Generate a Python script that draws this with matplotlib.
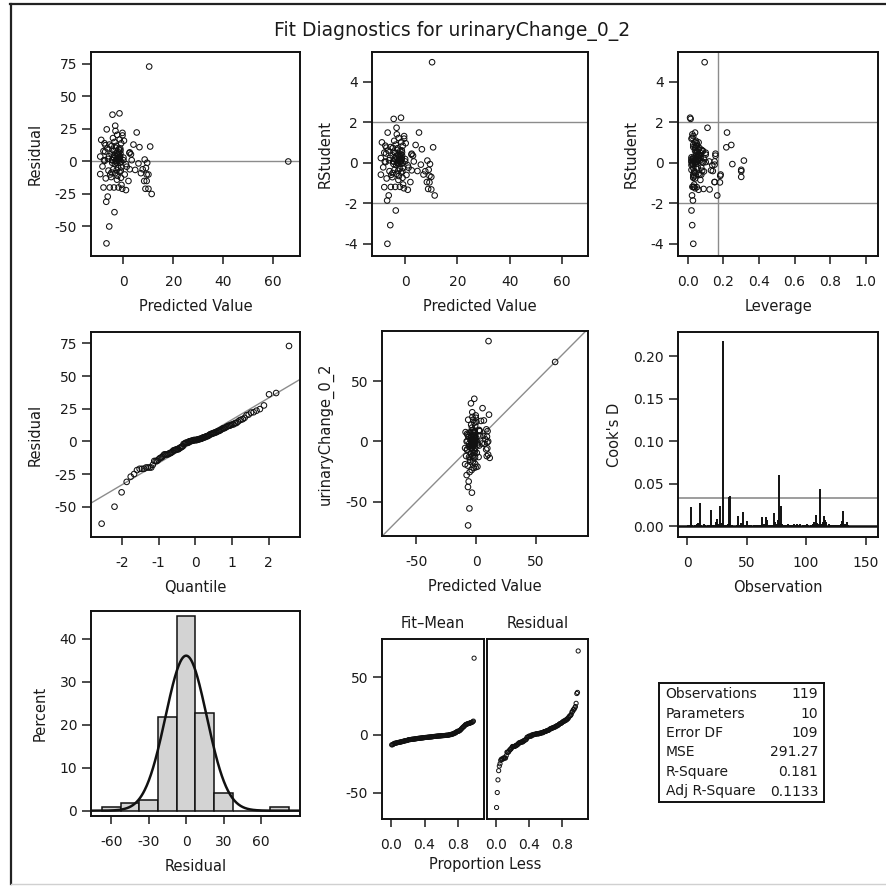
import numpy as np
import matplotlib
matplotlib.use('Agg')
import matplotlib.pyplot as plt
from matplotlib.lines import Line2D
from statistics import NormalDist

plt.rcParams['font.family'] = ['DejaVu Sans']
plt.rcParams['axes.unicode_minus'] = False

title = "Fit Diagnostics for urinaryChange_0_2"
response = "urinaryChange_0_2"

# ---- data (one entry per observation) ----
pred = [10.3, 66.0, -6.8, -5.7, -3.6, -6.9, -6.3, 11.3, 10.0, -1.6, -4.4, -3.3, 5.3, -6.7, -0.4, -0.4,
        10.7, 6.4, 9.3, 9.3, 8.3, 7.7, 10.0, 9.0, 8.5, 9.5, 4.0, 7.0, 2.5, 3.0, 8.8, 1.0, 0.0, 6.0, -8.0,
        2.0, 2.5,
        -9.3, -9.3, -8.9, -8.4, -8.0, -7.6, -7.3, -7.2, -7.8, -7.5, -7.1,
        -6.5, -6.0, -5.8, -5.5, -6.2, -5.3, -5.6,
        -4.8, -4.5, -4.2, -4.9, -4.6, -4.3, -4.1, -4.7, -4.4, -4.0, -4.8,
        -3.8, -3.5, -3.2, -3.9, -3.4, -3.1, -3.6, -3.3, -3.7, -3.0,
        -2.9, -2.6, -2.4, -2.8, -2.3, -2.7, -2.5, -2.2, -2.9, -2.6, -2.4, -2.8,
        -2.0, -1.8, -1.6, -2.1, -1.9, -1.7, -1.5, -2.0, -1.6, -1.8,
        -1.4, -1.2, -1.0, -1.3, -0.9, -1.1, -1.4, -0.8, -1.2, -1.0, -1.3, -0.9,
        -0.5, 0.0, 0.5, 1.3, 2.4, 3.3, 4.7, 0.2, 1.0]
resid = [73.0, 0.0, -63.0, -50.0, -39.0, -31.0, -27.0, -25.0, -21.0, 37.0, 36.0, 27.5, 22.3, 24.7, 22.0, 20.0,
         11.5, 11.0, -10.0, -15.0, -15.0, -6.0, -10.0, -5.0, 1.5, -1.0, 13.0, -9.0, 7.0, 5.5, -21.0, -2.0, 1.0,
         -1.5, 8.0, -15.0, -6.0,
         3.8, -9.7, 16.6, -3.8, -20.0, 14.0, 7.6, 12.5, 1.0, 0.5, -13.0,
         10.0, -7.0, 4.0, -20.0, 2.0, -10.0, 13.0,
         6.0, -1.0, 18.0, -12.0, 1.0, 9.0, -6.0, 12.0, 1.0, 3.5, -8.5,
         -20.0, 5.0, 23.5, 8.0, -2.0, 0.0, 15.0, -9.0, 2.5, 10.5,
         0.5, 6.5, -11.0, 1.5, 3.0, -6.5, 20.5, 2.0, 12.0, -14.0, 4.5, -1.0,
         -20.0, 7.0, 2.0, -5.0, 9.5, 1.5, 17.0, 5.5, -8.0, 0.5,
         -1.0, 8.5, -12.5, 4.0, 14.0, -7.0, 3.0, -18.0, 6.0, 0.0, 10.0, -4.5,
         -21.0, 3.0, -10.0, -4.0, 6.5, 1.0, -6.5, 16.0, -22.0]
lev = [0.094, 1.0, 0.03, 0.024, 0.02, 0.028, 0.023, 0.165, 0.122, 0.012, 0.015, 0.11, 0.22, 0.04, 0.03, 0.02,
       0.216, 0.06, 0.182, 0.18, 0.15, 0.30, 0.30, 0.30, 0.315, 0.25, 0.244, 0.184, 0.155, 0.155, 0.088, 0.137,
       0.15, 0.15, 0.10, 0.15, 0.13,
       0.07, 0.075, 0.06, 0.055, 0.05, 0.05, 0.045, 0.04, 0.05, 0.045, 0.04,
       0.04, 0.035, 0.03, 0.035, 0.04, 0.03, 0.03,
       0.06, 0.025, 0.045, 0.03, 0.08, 0.05, 0.02, 0.065, 0.035, 0.09, 0.04,
       0.03, 0.055, 0.025, 0.07, 0.02, 0.085, 0.03, 0.06, 0.045, 0.075,
       0.02, 0.05, 0.035, 0.065, 0.03, 0.08, 0.025, 0.055, 0.04, 0.07, 0.02, 0.045,
       0.025, 0.06, 0.03, 0.05, 0.085, 0.02, 0.04, 0.065, 0.035, 0.10,
       0.025, 0.05, 0.03, 0.07, 0.045, 0.09, 0.02, 0.035, 0.06, 0.04, 0.08, 0.03,
       0.04, 0.055, 0.065, 0.075, 0.10, 0.12, 0.14, 0.05, 0.06]

obs_num = [1, 2, 3, 4, 5, 7, 8, 9, 10, 11, 12, 14, 15, 17, 18, 19, 20, 21, 23, 24, 25, 26, 27, 28, 29, 30,
           31, 33, 34, 35, 36, 37, 38, 40, 42, 43, 44, 45, 46, 47, 48, 49, 50, 51, 52, 53, 54, 56, 57, 59,
           60, 61, 62, 63, 64, 65, 66, 67, 68, 70, 71, 72, 73, 74, 75, 76, 77, 78, 79, 80, 81, 82, 83, 85,
           86, 87, 88, 90, 91, 92, 93, 94, 95, 97, 98, 99, 100, 101, 102, 104, 105, 106, 107, 108, 109,
           110, 111, 112, 113, 114, 115, 116, 117, 119, 120, 121, 123, 124, 125, 127, 128, 129, 130, 131,
           132, 133, 134, 135, 136]
cook_d = [0.001, 0.002, 0.023, 0.001, 0.0005, 0.002, 0.003, 0.004, 0.004, 0.027, 0.001, 0.003, 0.001,
          0.0005, 0.001, 0.002, 0.019, 0.001, 0.002, 0.005, 0.008, 0.003, 0.002, 0.024, 0.004, 0.218,
          0.002, 0.001, 0.003, 0.035, 0.036, 0.002, 0.001, 0.0005, 0.001, 0.012, 0.002, 0.004, 0.001,
          0.017, 0.002, 0.001, 0.006, 0.001, 0.0005, 0.001, 0.002, 0.001, 0.002, 0.001, 0.002, 0.001,
          0.002, 0.011, 0.001, 0.003, 0.011, 0.007, 0.002, 0.001, 0.002, 0.001, 0.016, 0.005, 0.003,
          0.007, 0.060, 0.004, 0.024, 0.003, 0.001, 0.002, 0.001, 0.003, 0.001, 0.002, 0.001, 0.003,
          0.001, 0.003, 0.001, 0.002, 0.003, 0.001, 0.002, 0.001, np.nan, 0.003, 0.001, 0.002, 0.001,
          0.003, 0.005, 0.013, 0.004, 0.003, 0.002, 0.044, 0.003, 0.005, 0.012, 0.007, 0.005, 0.003,
          0.002, 0.001, 0.001, 0.002, 0.001, 0.001, 0.002, 0.003, 0.006, 0.018, 0.002, 0.003, 0.005,
          0.001, 0.0005]

stat_names = ["Observations", "Parameters", "Error DF", "MSE", "R-Square", "Adj R-Square"]
stat_values = ["119", "10", "109", "291.27", "0.181", "0.1133"]
n_obs = 119
n_par = 10
mse = 291.27

# ---- derived diagnostics ----
pred_a = np.array(pred, float)
resid_a = np.array(resid, float)
lev_a = np.array(lev, float)
obs_a = pred_a + resid_a
ok = lev_a < 0.999
s = np.sqrt(mse)
r_int = resid_a[ok] / (s * np.sqrt(1 - lev_a[ok]))
rstud = r_int * np.sqrt((n_obs - n_par - 1) / (n_obs - n_par - r_int ** 2))
n = len(resid_a)
mu, sd = resid_a.mean(), resid_a.std(ddof=1)
nd = NormalDist()
qq = np.array([nd.inv_cdf((i - 0.375) / (n + 0.25)) for i in range(1, n + 1)])
prop = (np.arange(1, n + 1) - 0.5) / n

# ---- figure ----
W, H = 886, 890
fig = plt.figure(figsize=(W / 100, H / 100), dpi=100)
TXT = '#1a1a1a'
GRAY = '#8c8c8c'


def add_ax(x0, y0, x1, y1):
    ax = fig.add_axes([x0 / W, 1 - y1 / H, (x1 - x0) / W, (y1 - y0) / H])
    for sp in ax.spines.values():
        sp.set_linewidth(1.4)
        sp.set_color('#111111')
    ax.tick_params(direction='out', width=1.1, labelsize=10, colors=TXT)
    ax.tick_params(axis='x', length=6, pad=8)
    ax.tick_params(axis='y', length=6.5, pad=3.5)
    return ax


def circles(ax, x, y, s=16, lw=0.75):
    ax.scatter(x, y, s=s, facecolors='none', edgecolors='#111111', linewidths=lw, zorder=3)


lab = dict(fontsize=10.5, color=TXT)
XPAD, YPAD = 7, 8.5

# Row 1
ax1 = add_ax(91, 52, 300, 256)
ax1.axhline(0, color=GRAY, lw=1, zorder=1)
circles(ax1, pred_a, resid_a)
ax1.set_xlim(-13, 70.7)
ax1.set_ylim(-72.7, 84.2)
ax1.set_xticks([0, 20, 40, 60])
ax1.set_yticks([-50, -25, 0, 25, 50, 75])
ax1.set_xlabel("Predicted Value", labelpad=XPAD, **lab)
ax1.set_ylabel("Residual", labelpad=YPAD, **lab)

ax2 = add_ax(372, 52, 588, 256)
for yv in (-2, 2):
    ax2.axhline(yv, color=GRAY, lw=1, zorder=1)
circles(ax2, pred_a[ok], rstud)
ax2.set_xlim(-12.7, 70)
ax2.set_ylim(-4.6, 5.46)
ax2.set_xticks([0, 20, 40, 60])
ax2.set_yticks([-4, -2, 0, 2, 4])
ax2.set_xlabel("Predicted Value", labelpad=XPAD, **lab)
ax2.set_ylabel("RStudent", labelpad=YPAD, **lab)

ax3 = add_ax(678, 52, 878, 256)
for yv in (-2, 2):
    ax3.axhline(yv, color=GRAY, lw=1, zorder=1)
ax3.axvline(2 * n_par / n_obs, color=GRAY, lw=1, zorder=1)
circles(ax3, lev_a[ok], rstud)
ax3.set_xlim(-0.056, 1.07)
ax3.set_ylim(-4.6, 5.46)
ax3.set_xticks([0, 0.2, 0.4, 0.6, 0.8, 1.0])
ax3.set_xticklabels(["0.0", "0.2", "0.4", "0.6", "0.8", "1.0"])
ax3.set_yticks([-4, -2, 0, 2, 4])
ax3.set_xlabel("Leverage", labelpad=XPAD, **lab)
ax3.set_ylabel("RStudent", labelpad=YPAD, **lab)

# Row 2
ax4 = add_ax(91, 332, 300, 537)
xx = np.array([-3.2, 3.2])
ax4.plot(xx, mu + sd * xx, color=GRAY, lw=1, zorder=1)
circles(ax4, qq, np.sort(resid_a))
ax4.set_xlim(-2.85, 2.86)
ax4.set_ylim(-73.2, 83.7)
ax4.set_xticks([-2, -1, 0, 1, 2])
ax4.set_yticks([-50, -25, 0, 25, 50, 75])
ax4.set_xlabel("Quantile", labelpad=XPAD, **lab)
ax4.set_ylabel("Residual", labelpad=YPAD, **lab)

ax5 = add_ax(382, 331, 588, 536)
ax5.plot([-100, 100], [-100, 100], color=GRAY, lw=1, zorder=1)
circles(ax5, pred_a, obs_a)
ax5.set_xlim(-78.8, 93.5)
ax5.set_ylim(-78.6, 91.7)
ax5.set_xticks([-50, 0, 50])
ax5.set_yticks([-50, 0, 50])
ax5.set_xlabel("Predicted Value", labelpad=XPAD, **lab)
ax5.set_ylabel(response, labelpad=YPAD, **lab)

ax6 = add_ax(678, 332, 878, 537)
ax6.axhline(4 / n_obs, color=GRAY, lw=1.2, zorder=1)
ax6.vlines(obs_num, 0, cook_d, color='#111111', lw=1.4, zorder=2)
ax6.axhline(0, color='#111111', lw=1.8, zorder=3)
ax6.set_xlim(-7.6, 160.4)
ax6.set_ylim(-0.0126, 0.2287)
ax6.set_xticks([0, 50, 100, 150])
ax6.set_yticks([0, 0.05, 0.10, 0.15, 0.20])
ax6.set_yticklabels(["0.00", "0.05", "0.10", "0.15", "0.20"])
ax6.set_xlabel("Observation", labelpad=XPAD, **lab)
ax6.set_ylabel("Cook's D", labelpad=YPAD, **lab)

# Row 3
ax7 = add_ax(91, 611, 300, 816)
edges = np.arange(-67.5, 90, 15)
ax7.hist(resid_a, bins=edges, weights=np.full(n, 100.0 / n), facecolor='#d3d3d3',
         edgecolor='#111111', linewidth=1.1, zorder=2)
gx = np.linspace(-76, 91, 400)
gy = 100 * 15 * np.exp(-0.5 * ((gx - mu) / sd) ** 2) / (sd * np.sqrt(2 * np.pi))
ax7.plot(gx, gy, color='#111111', lw=1.8, zorder=3)
ax7.set_xlim(-76.4, 91.4)
ax7.set_ylim(-1.24, 46.5)
ax7.set_xticks([-60, -30, 0, 30, 60])
ax7.set_yticks([0, 10, 20, 30, 40])
ax7.set_xlabel("Residual", labelpad=XPAD, **lab)
ax7.set_ylabel("Percent", labelpad=YPAD, **lab)

ax8a = add_ax(382, 639, 484, 819)
ax8b = add_ax(487, 639, 588, 819)
fm = np.sort(pred_a - obs_a.mean())
circles(ax8a, prop, fm, s=9, lw=0.7)
circles(ax8b, prop, np.sort(resid_a), s=9, lw=0.7)
for a in (ax8a, ax8b):
    a.set_xlim(-0.112, 1.115)
    a.set_ylim(-73, 83.4)
    a.set_xticks([0, 0.4, 0.8])
    a.set_xticklabels(["0.0", "0.4", "0.8"])
ax8a.set_yticks([-50, 0, 50])
ax8b.set_yticks([])
ax8a.set_title("Fit\u2013Mean", fontsize=10.5, color=TXT, pad=8)
ax8b.set_title("Residual", fontsize=10.5, color=TXT, pad=8)
fig.text(485 / W, 1 - 865 / H, "Proportion Less", ha='center', va='center', **lab)

# Fit statistics table
axt = add_ax(659, 683, 824, 802)
axt.set_xticks([])
axt.set_yticks([])
axt.set_xlim(0, 1)
axt.set_ylim(0, 1)
row_c = [694, 713.5, 733, 752.5, 772, 791.5]
for name, val, yc in zip(stat_names, stat_values, row_c):
    fy = 1 - (yc - 683) / 119
    axt.text(0.04, fy, name, ha='left', va='center', fontsize=10, color=TXT)
    axt.text(0.965, fy, val, ha='right', va='center', fontsize=10, color=TXT)

# Title and outer frame
fig.text(452 / W, 1 - 31 / H, title, ha='center', va='center', fontsize=13.5, color=TXT)
fig.add_artist(Line2D([10 / W, 1.0], [1 - 3.5 / H, 1 - 3.5 / H], color='#222222', lw=1.6,
                      transform=fig.transFigure))
fig.add_artist(Line2D([10.5 / W, 10.5 / W], [1 - 3.5 / H, 1 - 884 / H], color='#222222', lw=1.6,
                      transform=fig.transFigure))
fig.add_artist(Line2D([10.5 / W, 1.0], [1 - 884 / H, 1 - 884 / H], color='#d0d0d0', lw=1.0,
                      transform=fig.transFigure))

fig.savefig("out.png", dpi=100)
